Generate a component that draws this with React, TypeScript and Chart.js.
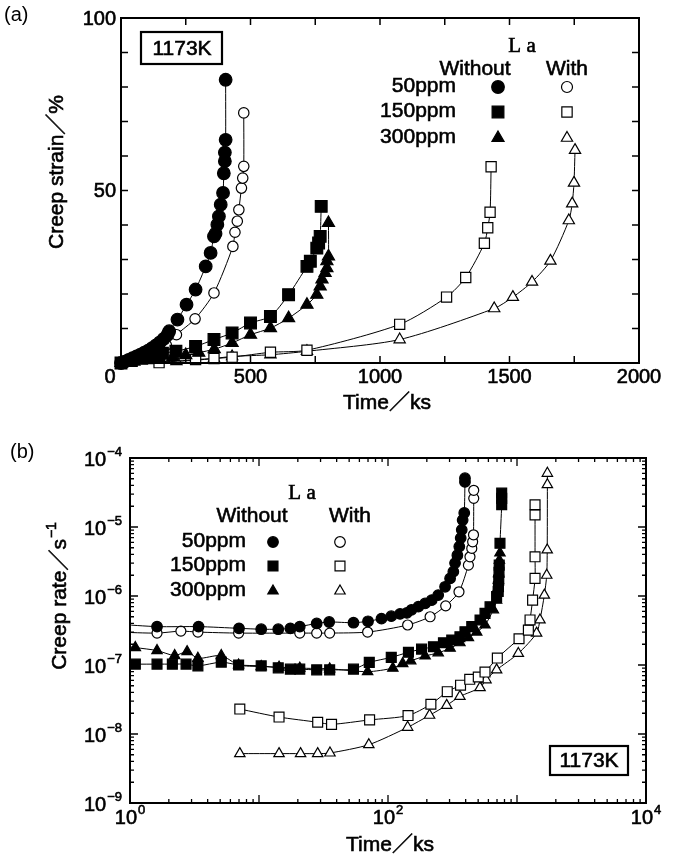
import React, { useEffect, useRef } from 'react';
import { Chart, registerables } from 'chart.js';
Chart.register(...registerables);

const SANS = '"Liberation Sans", Arial, Helvetica, "Noto Sans CJK JP", sans-serif';
const SERIF = '"Liberation Serif", "Times New Roman", "Noto Sans CJK JP", serif';

// ---------- Panel (a): creep strain (%) vs time (ks) ----------
const a50WithoutTime = [0, 15, 30, 45, 60, 75, 90, 105, 120, 135, 150, 165, 180, 186, 218, 253, 288, 327, 346, 359, 365, 372, 378, 385, 394, 397, 401, 401, 404, 404];
const a50WithoutStrain = [0, 0.4, 0.9, 1.4, 1.9, 2.4, 3.0, 3.6, 4.3, 5.1, 6.0, 7.0, 8.2, 9.2, 12.6, 16.9, 21.3, 28.0, 31.9, 36.7, 37.5, 40.1, 42.5, 45.9, 49.3, 55.0, 58.5, 61.0, 64.7, 82.1];
const a150WithoutTime = [0, 40, 80, 120, 160, 212, 288, 359, 429, 500, 577, 647, 718, 731, 756, 763, 769, 773];
const a150WithoutStrain = [0, 0.7, 1.4, 2.1, 2.8, 3.4, 4.8, 6.8, 8.7, 11.6, 13.5, 19.8, 28.0, 29.5, 33.3, 34.8, 36.7, 45.4];
const a300WithoutTime = [0, 50, 100, 150, 200, 250, 300, 360, 429, 500, 577, 647, 718, 756, 769, 776, 788, 795, 795, 801, 801];
const a300WithoutStrain = [0, 0.4, 0.8, 1.2, 1.7, 2.3, 3.0, 4.0, 5.8, 8.2, 10.1, 13.0, 16.9, 19.8, 22.2, 24.2, 26.1, 27.5, 29.5, 30.9, 40.6];
const a50WithTime = [0, 25, 50, 75, 100, 125, 150, 175, 214, 286, 359, 432, 440, 449, 455, 465, 470, 474, 474];
const a50WithStrain = [0, 0.5, 1.1, 1.7, 2.4, 3.2, 4.1, 5.2, 8.2, 12.8, 20.3, 33.8, 37.9, 41.1, 44.4, 50.7, 53.6, 57.0, 72.5];
const a150WithTime = [0, 147, 288, 359, 429, 577, 718, 1076, 1257, 1331, 1403, 1416, 1425, 1429];
const a150WithStrain = [0, 0.1, 1.0, 1.3, 1.7, 3.1, 3.7, 11.2, 19.1, 24.8, 34.7, 39.2, 43.7, 56.9];
const a300WithTime = [0, 214, 286, 359, 429, 577, 718, 1076, 1441, 1513, 1587, 1658, 1729, 1742, 1749, 1753];
const a300WithStrain = [0, 0.5, 0.8, 1.3, 1.9, 2.4, 3.4, 6.8, 15.8, 19.1, 23.5, 29.6, 41.3, 46.2, 52.2, 61.7];

const aXTicks = [0, 250, 500, 750, 1000, 1250, 1500, 1750, 2000];
const aXLabels = [500, 1000, 1500, 2000];
const aYTicks = [0, 10, 20, 30, 40, 50, 60, 70, 80, 90, 100];
const aYLabels = [50, 100];

// ---------- Panel (b): creep rate (1/s) vs time (ks), log-log ----------
const b50WithoutTime = [0.8, 1.62, 3.4, 7.0, 10.4, 14.1, 17.5, 20.7, 28, 35, 54, 70, 89, 106, 124, 140, 152, 172, 194, 218, 245, 277, 303, 321, 331, 345, 357, 366, 373, 379, 390, 395, 395];
const b50WithoutRate = [3.9e-7, 3.6e-7, 3.6e-7, 3.4e-7, 3.3e-7, 3.3e-7, 3.4e-7, 3.6e-7, 4.0e-7, 4.2e-7, 4.1e-7, 4.3e-7, 4.7e-7, 5.1e-7, 5.5e-7, 5.7e-7, 6.3e-7, 7.0e-7, 7.8e-7, 8.7e-7, 1.03e-6, 1.36e-6, 1.8e-6, 2.25e-6, 3.0e-6, 3.9e-6, 5.2e-6, 6.9e-6, 9.1e-6, 1.26e-5, 1.6e-5, 4.5e-5, 5.1e-5];
const b150WithoutTime = [0.8, 1.1, 1.62, 2.13, 2.72, 3.36, 5.1, 6.95, 10.4, 14.1, 17.5, 20.7, 28, 35.3, 54, 71.6, 106, 144, 182, 225, 269, 312, 361, 395, 446, 517, 565, 618, 695, 715, 718, 722, 725, 728, 738, 761, 761, 761];
const b150WithoutRate = [1.05e-7, 1.03e-7, 1.03e-7, 1.03e-7, 1.03e-7, 0.97e-7, 1.1e-7, 1.0e-7, 0.97e-7, 0.91e-7, 0.87e-7, 0.87e-7, 0.85e-7, 0.85e-7, 0.87e-7, 1.09e-7, 1.29e-7, 1.53e-7, 1.7e-7, 1.84e-7, 2.1e-7, 2.3e-7, 2.57e-7, 3.04e-7, 3.6e-7, 4.5e-7, 5.6e-7, 7.0e-7, 9.8e-7, 1.16e-6, 1.36e-6, 1.7e-6, 2.2e-6, 2.8e-6, 5.8e-6, 2.1e-5, 2.6e-5, 3.1e-5];
const b300WithoutTime = [0.8, 1.1, 1.62, 2.22, 2.77, 3.36, 5.1, 6.95, 10.4, 14.3, 20.7, 35.3, 69.5, 109, 130, 150, 194, 245, 303, 361, 420, 487, 565, 656, 695, 712, 717, 720, 730, 738];
const b300WithoutRate = [1.95e-7, 1.79e-7, 1.62e-7, 1.37e-7, 1.56e-7, 1.25e-7, 1.37e-7, 1.0e-7, 0.95e-7, 0.93e-7, 0.9e-7, 0.88e-7, 0.8e-7, 0.9e-7, 1.05e-7, 1.15e-7, 1.35e-7, 1.5e-7, 1.75e-7, 2.1e-7, 2.5e-7, 3.0e-7, 3.8e-7, 6.3e-7, 8.7e-7, 1.3e-6, 1.7e-6, 2.1e-6, 3.3e-6, 4.2e-6];
const b50WithTime = [0.8, 1.62, 2.48, 3.36, 6.95, 20.7, 28, 35.3, 69.5, 142, 212, 280, 355, 420, 432, 446, 453, 460, 462, 462];
const b50WithRate = [3.0e-7, 2.9e-7, 3.1e-7, 3.0e-7, 2.9e-7, 2.9e-7, 2.9e-7, 2.9e-7, 3.0e-7, 3.8e-7, 5.0e-7, 7.2e-7, 1.15e-6, 2.8e-6, 3.7e-6, 4.9e-6, 6.1e-6, 7.7e-6, 2.6e-5, 3.4e-5];
const b150WithTime = [7.1, 14.3, 28.5, 36.5, 72, 143, 215, 288, 365, 430, 501, 565, 704, 1037, 1225, 1262, 1321, 1380, 1380, 1380, 1380];
const b150WithRate = [2.3e-8, 1.76e-8, 1.48e-8, 1.38e-8, 1.6e-8, 1.85e-8, 2.7e-8, 4.1e-8, 5.1e-8, 6.2e-8, 6.7e-8, 7.9e-8, 1.26e-7, 2.4e-7, 3.2e-7, 4.5e-7, 8.7e-7, 1.8e-6, 3.7e-6, 1.5e-5, 2.1e-5];
const b300WithTime = [7.1, 14.3, 21, 28.5, 35.5, 71, 142, 210, 285, 361, 517, 575, 695, 1024, 1419, 1507, 1629, 1700, 1715, 1720, 1720];
const b300WithRate = [5.2e-9, 5.2e-9, 5.2e-9, 5.2e-9, 5.3e-9, 7.0e-9, 1.25e-8, 1.87e-8, 2.6e-8, 3.5e-8, 4.7e-8, 6.1e-8, 8.5e-8, 1.47e-7, 2.9e-7, 4.5e-7, 1.03e-6, 2.0e-6, 4.65e-6, 4.1e-5, 6.0e-5];

const bXLabelExps = [0, 2, 4];
const bYLabelExps = [-4, -5, -6, -7, -8, -9];

const legendRows = ['50ppm', '150ppm', '300ppm'];
const legendShapes = ['circle', 'rect', 'triangle'];

const B_OFF = 425;

type Shape = 'circle' | 'rect' | 'triangle';

// text drawn with a light outline so it looks as heavy as the scanned print
function txt(ctx: CanvasRenderingContext2D, s: string, x: number, y: number) {
  ctx.fillText(s, x, y);
  ctx.save();
  ctx.lineWidth = 0.6;
  ctx.strokeStyle = '#000';
  ctx.strokeText(s, x, y);
  ctx.restore();
}

function drawMarker(ctx: CanvasRenderingContext2D, shape: Shape, x: number, y: number, r: number, filled: boolean) {
  ctx.save();
  ctx.beginPath();
  if (shape === 'circle') {
    ctx.arc(x, y, r, 0, Math.PI * 2);
  } else if (shape === 'rect') {
    const s = r * Math.SQRT1_2;
    ctx.rect(x - s, y - s, 2 * s, 2 * s);
  } else {
    ctx.moveTo(x, y - r);
    ctx.lineTo(x + r * Math.sin((2 * Math.PI) / 3), y - r * Math.cos((2 * Math.PI) / 3));
    ctx.lineTo(x + r * Math.sin((4 * Math.PI) / 3), y - r * Math.cos((4 * Math.PI) / 3));
    ctx.closePath();
  }
  ctx.fillStyle = filled ? '#000' : '#fff';
  ctx.fill();
  ctx.lineWidth = 1.2;
  ctx.strokeStyle = '#000';
  ctx.stroke();
  ctx.restore();
}

function drawPow(ctx: CanvasRenderingContext2D, base: string, exp: string, x: number, y: number, align: 'right' | 'center', bs: number, es: number) {
  ctx.font = `${bs}px ${SANS}`;
  const wb = ctx.measureText(base).width;
  ctx.font = `${es}px ${SANS}`;
  const we = ctx.measureText(exp).width;
  const total = wb + 1 + we;
  const left = align === 'right' ? x - total : x - total / 2;
  ctx.textAlign = 'left';
  ctx.textBaseline = 'middle';
  ctx.font = `${bs}px ${SANS}`;
  txt(ctx, base, left, y);
  ctx.font = `${es}px ${SANS}`;
  txt(ctx, exp, left + wb + 1, y - bs * 0.36);
}

function pairs(xs: number[], ys: number[]) {
  return xs.map((x, i) => ({ x, y: ys[i] }));
}

function mkDataset(xs: number[], ys: number[], shape: Shape, filled: boolean, r: number, label: string) {
  return {
    label,
    data: pairs(xs, ys),
    borderColor: '#000',
    borderWidth: 1,
    tension: 0.25,
    fill: false,
    pointStyle: shape,
    pointRadius: r,
    pointBackgroundColor: filled ? '#000' : '#fff',
    pointBorderColor: '#000',
    pointBorderWidth: 1.2,
  };
}

const overlayA = {
  id: 'overlayA',
  afterDraw(chart: any) {
    const ctx: CanvasRenderingContext2D = chart.ctx;
    const ca = chart.chartArea;
    const xs = chart.scales.x;
    const ys = chart.scales.y;
    ctx.save();
    ctx.strokeStyle = '#000';
    ctx.lineWidth = 2;
    ctx.strokeRect(ca.left, ca.top, ca.right - ca.left, ca.bottom - ca.top);
    ctx.lineWidth = 1.5;
    ctx.beginPath();
    aXTicks.forEach((v) => {
      const p = xs.getPixelForValue(v);
      ctx.moveTo(p, ca.bottom); ctx.lineTo(p, ca.bottom - 7);
      ctx.moveTo(p, ca.top); ctx.lineTo(p, ca.top + 7);
    });
    aYTicks.forEach((v) => {
      const p = ys.getPixelForValue(v);
      ctx.moveTo(ca.left, p); ctx.lineTo(ca.left + 7, p);
      ctx.moveTo(ca.right, p); ctx.lineTo(ca.right - 7, p);
    });
    ctx.stroke();

    ctx.fillStyle = '#000';
    ctx.font = `20px ${SANS}`;
    ctx.textBaseline = 'middle';
    ctx.textAlign = 'center';
    aXLabels.forEach((v) => txt(ctx, String(v), xs.getPixelForValue(v), ca.bottom + 14));
    txt(ctx, '0', ca.left - 11, ca.bottom + 14);
    ctx.textAlign = 'right';
    aYLabels.forEach((v) => txt(ctx, String(v), ca.left - 5, ys.getPixelForValue(v) + 1));

    // panel label
    ctx.textAlign = 'left';
    ctx.fillText('(a)', 4, 15);

    // axis titles
    ctx.font = `21px ${SANS}`;
    ctx.textAlign = 'center';
    txt(ctx, 'Time／ks', 387, 403);
    ctx.save();
    ctx.translate(57, 172);
    ctx.rotate(-Math.PI / 2);
    txt(ctx, 'Creep strain／%', 0, 0);
    ctx.restore();

    // temperature box
    ctx.lineWidth = 2.2;
    ctx.strokeRect(141, 32, 81, 32);
    ctx.font = `21px ${SANS}`;
    txt(ctx, '1173K', 182, 49);

    // legend
    ctx.font = `21px ${SERIF}`;
    txt(ctx, 'L a', 522, 46);
    ctx.font = `21px ${SANS}`;
    txt(ctx, 'Without', 475, 69);
    txt(ctx, 'With', 567, 69);
    const rowsY = [86, 111, 137];
    legendRows.forEach((lab, i) => {
      ctx.textAlign = 'right';
      txt(ctx, lab, 456, rowsY[i]);
      const sh = legendShapes[i] as Shape;
      const rf = sh === 'circle' ? 6.3 : sh === 'rect' ? 8.3 : 7;
      const ro = sh === 'circle' ? 5.5 : sh === 'rect' ? 7.3 : 6.5;
      drawMarker(ctx, sh, 498, rowsY[i] + 1, rf, true);
      drawMarker(ctx, sh, 567, rowsY[i] + 1, ro, false);
    });
    ctx.restore();
  },
};

const overlayB = {
  id: 'overlayB',
  afterDraw(chart: any) {
    const ctx: CanvasRenderingContext2D = chart.ctx;
    const ca = chart.chartArea;
    const xs = chart.scales.x;
    const ys = chart.scales.y;
    ctx.save();
    ctx.strokeStyle = '#000';
    ctx.lineWidth = 2;
    ctx.strokeRect(ca.left, ca.top, ca.right - ca.left, ca.bottom - ca.top);
    ctx.lineWidth = 1.3;
    ctx.beginPath();
    for (let d = 0; d <= 4; d++) {
      for (let m = 1; m <= 9; m++) {
        if (d === 4 && m > 1) continue;
        const v = m * Math.pow(10, d);
        const p = xs.getPixelForValue(v);
        const len = m === 1 ? 8 : 4;
        ctx.moveTo(p, ca.bottom); ctx.lineTo(p, ca.bottom - len);
        ctx.moveTo(p, ca.top); ctx.lineTo(p, ca.top + len);
      }
    }
    for (let d = -9; d <= -4; d++) {
      for (let m = 1; m <= 9; m++) {
        if (d === -4 && m > 1) continue;
        const v = m * Math.pow(10, d);
        const p = ys.getPixelForValue(v);
        const len = m === 1 ? 8 : 4;
        ctx.moveTo(ca.left, p); ctx.lineTo(ca.left + len, p);
        ctx.moveTo(ca.right, p); ctx.lineTo(ca.right - len, p);
      }
    }
    ctx.stroke();

    ctx.fillStyle = '#000';
    bXLabelExps.forEach((e) => {
      drawPow(ctx, '10', String(e), xs.getPixelForValue(Math.pow(10, e)), 818 - B_OFF, 'center', 20, 13);
    });
    bYLabelExps.forEach((e) => {
      drawPow(ctx, '10', '\u2212' + String(-e), ca.left - 8, ys.getPixelForValue(Math.pow(10, e)) + 2, 'right', 20, 13);
    });

    ctx.font = `20px ${SANS}`;
    ctx.textAlign = 'left';
    ctx.textBaseline = 'middle';
    ctx.fillText('(b)', 10, 452 - B_OFF);

    // axis titles
    ctx.font = `21px ${SANS}`;
    ctx.textAlign = 'center';
    txt(ctx, 'Time／ks', 390, 845 - B_OFF);
    ctx.save();
    ctx.translate(60, 596 - B_OFF);
    ctx.rotate(-Math.PI / 2);
    ctx.font = `21px ${SANS}`;
    const t1 = 'Creep rate／s';
    const w1 = ctx.measureText(t1).width;
    ctx.font = `14px ${SANS}`;
    const w2 = ctx.measureText('\u22121').width;
    const st = -(w1 + 1 + w2) / 2;
    ctx.textAlign = 'left';
    ctx.font = `21px ${SANS}`;
    txt(ctx, t1, st, 0);
    ctx.font = `14px ${SANS}`;
    txt(ctx, '\u22121', st + w1 + 1, -8);
    ctx.restore();

    // temperature box
    ctx.lineWidth = 2.2;
    ctx.strokeRect(550, 746 - B_OFF, 78, 29);
    ctx.font = `21px ${SANS}`;
    ctx.textAlign = 'center';
    txt(ctx, '1173K', 589, 761 - B_OFF);

    // legend
    ctx.font = `21px ${SERIF}`;
    txt(ctx, 'L a', 302, 493 - B_OFF);
    ctx.font = `21px ${SANS}`;
    txt(ctx, 'Without', 252, 516 - B_OFF);
    txt(ctx, 'With', 350, 516 - B_OFF);
    const rowsY = [541, 565, 590];
    legendRows.forEach((lab, i) => {
      ctx.textAlign = 'right';
      txt(ctx, lab, 246, rowsY[i] - B_OFF);
      const sh = legendShapes[i] as Shape;
      const r = sh === 'circle' ? 5.3 : sh === 'rect' ? 7 : 6;
      drawMarker(ctx, sh, 273, rowsY[i] - B_OFF + 1, r, true);
      drawMarker(ctx, sh, 340, rowsY[i] - B_OFF + 1, r, false);
    });
    ctx.restore();
  },
};

export default function App() {
  const refA = useRef<HTMLCanvasElement>(null);
  const refB = useRef<HTMLCanvasElement>(null);

  useEffect(() => {
    const chartA = new Chart(refA.current as HTMLCanvasElement, {
      type: 'line',
      data: {
        datasets: [
          mkDataset(a50WithoutTime, a50WithoutStrain, 'circle', true, 6.3, '50ppm without La'),
          mkDataset(a150WithoutTime, a150WithoutStrain, 'rect', true, 8.3, '150ppm without La'),
          mkDataset(a300WithoutTime, a300WithoutStrain, 'triangle', true, 7, '300ppm without La'),
          mkDataset(a50WithTime, a50WithStrain, 'circle', false, 5.2, '50ppm with La'),
          mkDataset(a150WithTime, a150WithStrain, 'rect', false, 7.2, '150ppm with La'),
          mkDataset(a300WithTime, a300WithStrain, 'triangle', false, 6.5, '300ppm with La'),
        ].map((d) => ({ ...d, clip: false })) as any,
      },
      options: {
        responsive: false,
        animation: false,
        devicePixelRatio: 1,
        events: [],
        layout: { padding: { left: 121, right: 40, top: 18, bottom: 62 } },
        plugins: { legend: { display: false }, tooltip: { enabled: false } },
        scales: {
          x: { type: 'linear', min: 0, max: 2000, display: false },
          y: { type: 'linear', min: 0, max: 100, display: false },
        },
      },
      plugins: [overlayA],
    });

    const chartB = new Chart(refB.current as HTMLCanvasElement, {
      type: 'line',
      data: {
        datasets: [
          mkDataset(b50WithoutTime, b50WithoutRate, 'circle', true, 5.3, '50ppm without La'),
          mkDataset(b150WithoutTime, b150WithoutRate, 'rect', true, 7, '150ppm without La'),
          mkDataset(b300WithoutTime, b300WithoutRate, 'triangle', true, 6, '300ppm without La'),
          mkDataset(b50WithTime, b50WithRate, 'circle', false, 5, '50ppm with La'),
          mkDataset(b150WithTime, b150WithRate, 'rect', false, 7, '150ppm with La'),
          mkDataset(b300WithTime, b300WithRate, 'triangle', false, 6, '300ppm with La'),
        ] as any,
      },
      options: {
        responsive: false,
        animation: false,
        devicePixelRatio: 1,
        events: [],
        layout: { padding: { left: 130, right: 33, top: 33, bottom: 53 } },
        plugins: { legend: { display: false }, tooltip: { enabled: false } },
        scales: {
          x: { type: 'logarithmic', min: 1, max: 1e4, display: false },
          y: { type: 'logarithmic', min: 1e-9, max: 1e-4, display: false },
        },
      },
      plugins: [overlayB],
    });

    return () => {
      chartA.destroy();
      chartB.destroy();
    };
  }, []);

  return (
    <div style={{ position: 'absolute', left: 0, top: 0, width: 679, height: 856, background: '#fff' }}>
      <canvas ref={refA} width={679} height={425} style={{ position: 'absolute', left: 0, top: 0, width: 679, height: 425 }} />
      <canvas ref={refB} width={679} height={431} style={{ position: 'absolute', left: 0, top: 425, width: 679, height: 431 }} />
    </div>
  );
}
